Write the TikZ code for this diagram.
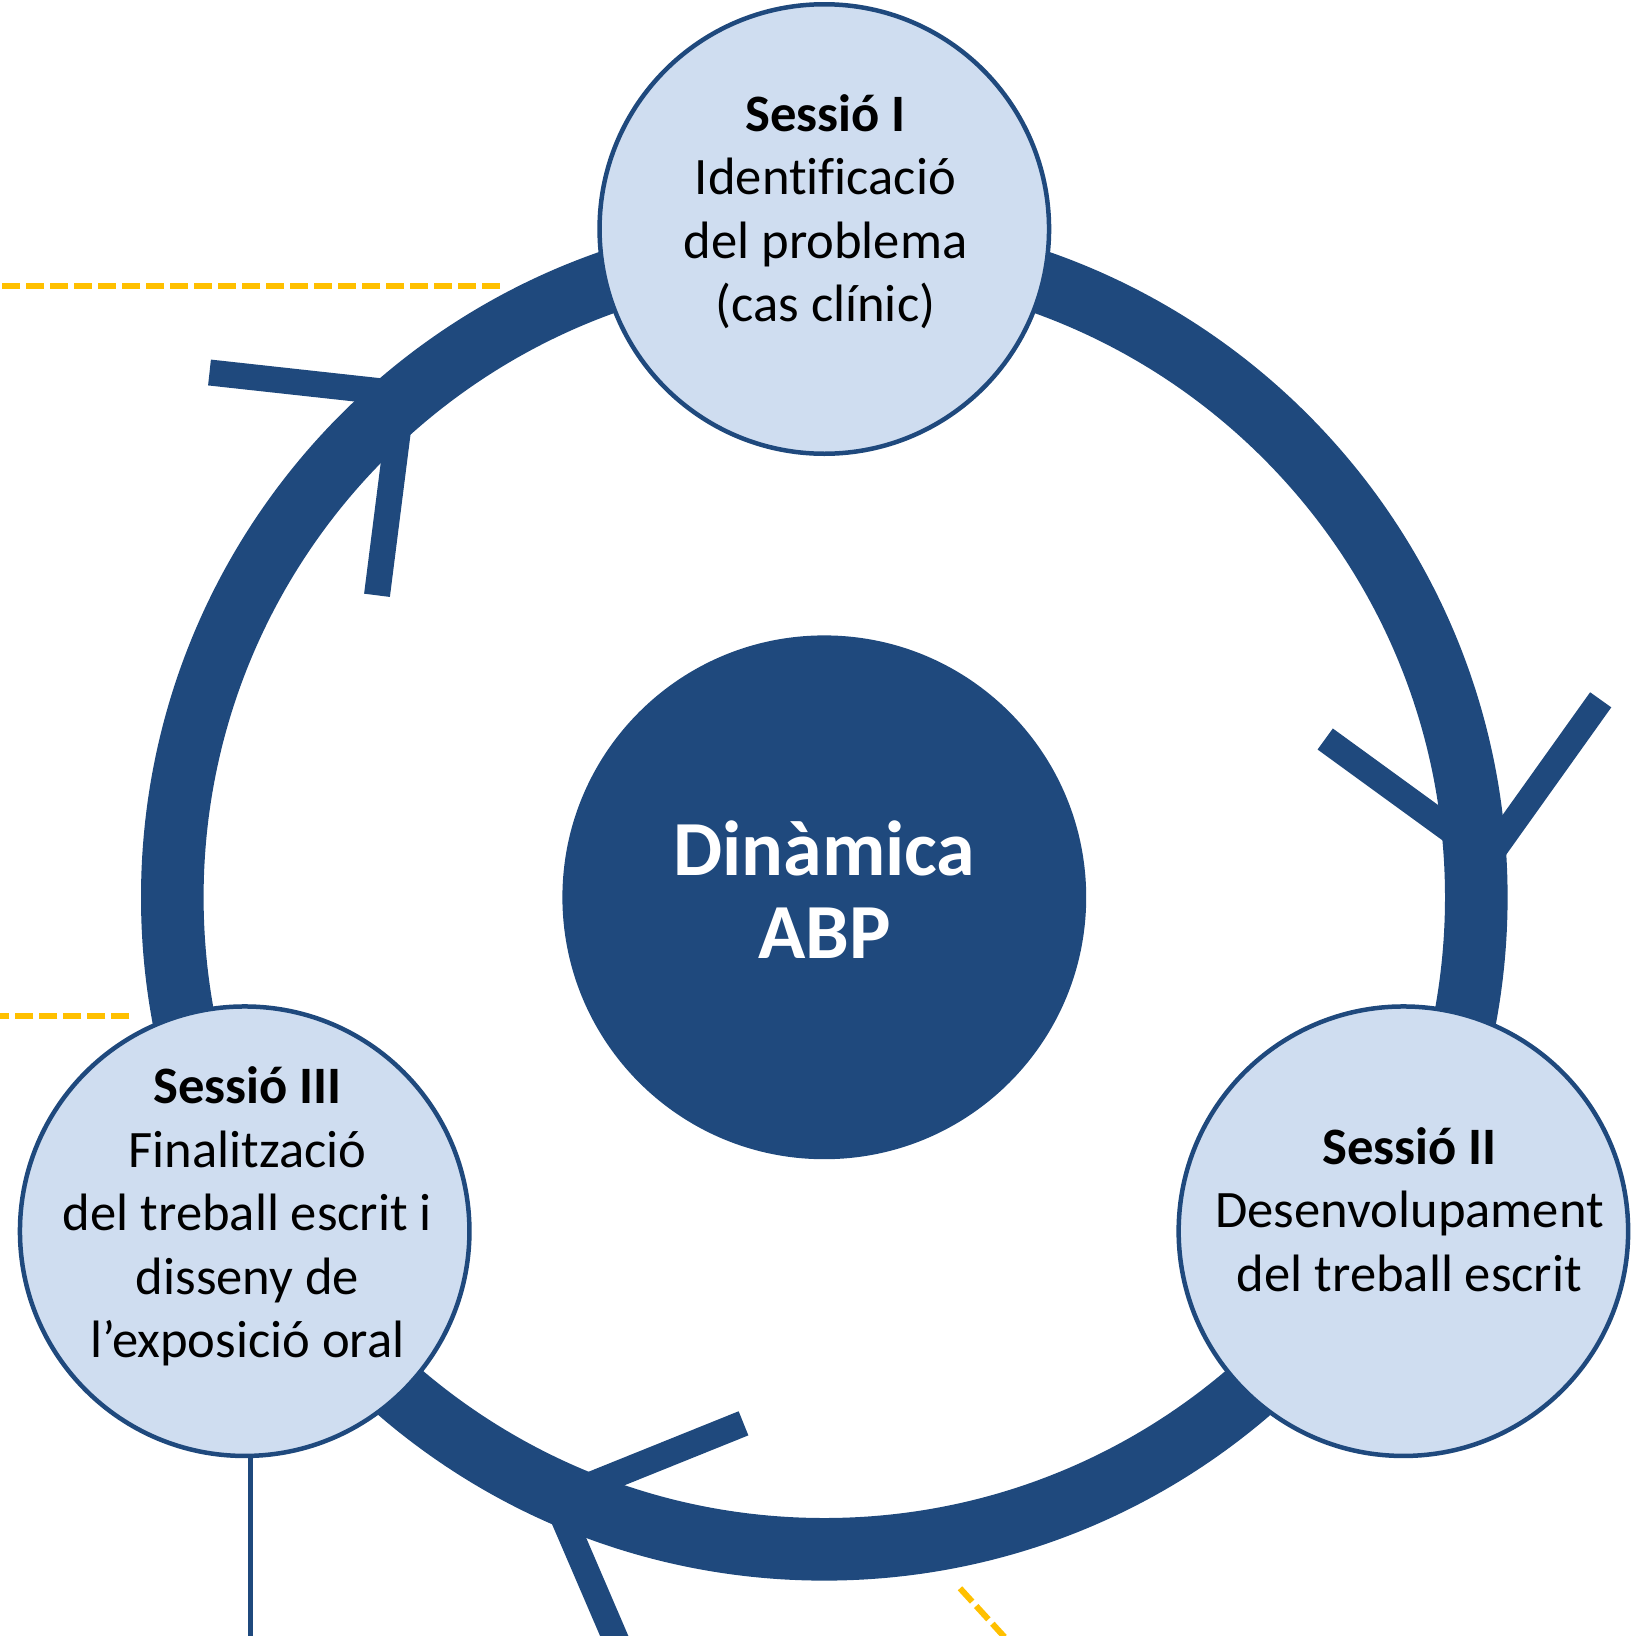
\documentclass[tikz,border=0pt]{standalone}
\usepackage{fontspec}
\setmainfont{Carlito}[Ligatures=NoCommon]
\definecolor{abpdark}{HTML}{1F497D}
\definecolor{abplight}{HTML}{CFDDF0}
\definecolor{abpgold}{HTML}{FFC000}
\tikzset{
 ringstyle/.style={draw=abpdark, line width=62.6pt},
 chevron/.style={draw=abpdark, line width=26pt, line join=miter},
 session/.style={circle, fill=abplight, draw=abpdark, line width=4.5pt, minimum size=449.5pt, inner sep=0pt},
 core/.style={circle, fill=abpdark, minimum size=523.8pt, inner sep=0pt},
 sesstext/.style={align=center, font=\fontsize{52.6}{63.5}\selectfont, inner sep=0pt, anchor=base},
 coretext/.style={align=center, font=\fontsize{78}{83.3}\selectfont\bfseries, text=white, inner sep=0pt, anchor=base},
 guide/.style={draw=abpgold, line width=6pt, dash pattern=on 18pt off 6pt},
 stem/.style={draw=abpdark, line width=5.5pt}
}
\begin{document}
\begin{tikzpicture}[x=1pt,y=-1pt]
\useasboundingbox (0,0) rectangle (1634,1636);
\clip (0,0) rectangle (1634,1636);
\coordinate (O) at (824.3,897.3);
% guide lines
\coordinate (g1a) at (2.3,285.7);
\coordinate (g1b) at (500.3,285.7);
\coordinate (g2a) at (129.3,1016);
\coordinate (g2b) at (0,1016);
\coordinate (g3a) at (960,1588.3);
\coordinate (g3b) at (1010,1643);
\draw[guide] (g1a) -- (g1b);
\draw[guide] (g2a) -- (g2b);
\draw[guide] (g3a) -- (g3b);
% ring
\draw[ringstyle] (O) circle[radius=652pt];
% chevrons
\coordinate (ja) at (402.6,393.7);
\coordinate (a1) at (209.5,372.5);
\coordinate (a2) at (377,595.3);
\coordinate (jb) at (1488.2,857.5);
\coordinate (b1) at (1325.2,739);
\coordinate (b2) at (1600.7,699.8);
\coordinate (jc) at (555.4,1499.1);
\coordinate (c1) at (743.5,1423.3);
\coordinate (c2) at (634.4,1682.9);
\draw[chevron] (a1) -- (ja) -- (a2);
\draw[chevron] (b1) -- (jb) -- (b2);
\draw[chevron] (c1) -- (jc) -- (c2);
% circles
\node[session] (s1) at (824.3,229) {};
\node[session] (s2) at (1403.4,1231.2) {};
\node[session] (s3) at (244.7,1231.2) {};
\node[core] (core) at (O) {};
% texts (anchored at the baseline of the last line)
\node[sesstext] (t1) at (825.5,321.5) {\textbf{Sessió I}\\Identificació\\del problema\\(cas clínic)};
\node[sesstext] (t2) at (1409.5,1291) {\textbf{Sessió II}\\Desenvolupament\\del treball escrit};
\node[sesstext] (t3) at (247.5,1357.5) {\textbf{Sessió III}\\Finalització\\del treball escrit i\\disseny de\\l’exposició oral};
\node[coretext] (ct) at (824.3,958.3) {Dinàmica\\ABP};
% stem
\coordinate (stemend) at (250.5,1636);
\draw[stem] (s3.south -| stemend) -- (stemend);
\end{tikzpicture}
\end{document}
